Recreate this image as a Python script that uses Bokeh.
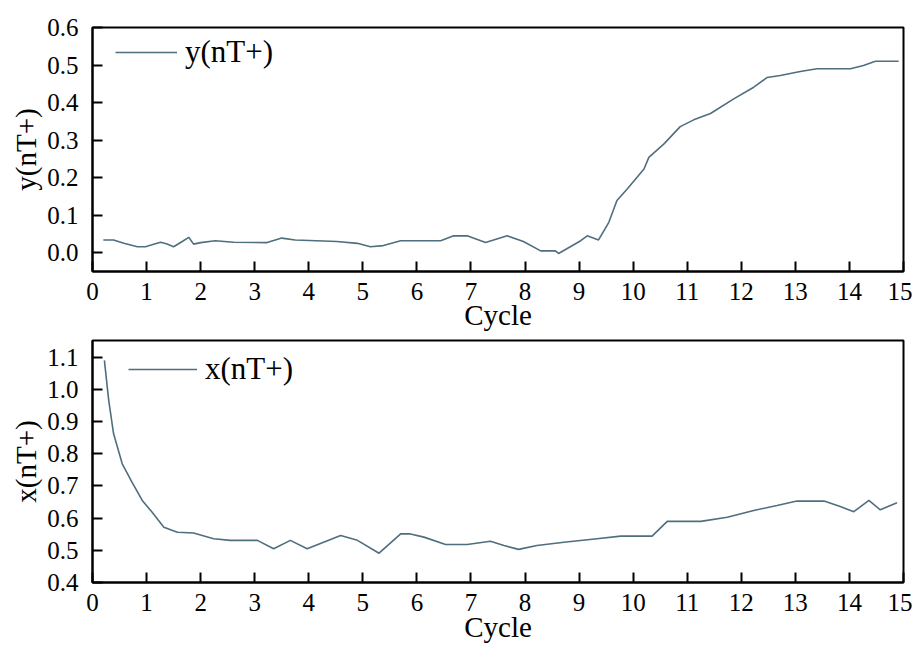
from bokeh.plotting import figure
from bokeh.layouts import column
from bokeh.models import FixedTicker, PrintfTickFormatter, Legend, LegendItem, Range1d
from bokeh.embed import file_html
from bokeh.resources import INLINE

# ---------------- data ----------------
x_ticks = list(range(0, 16))
top_y_ticks = [0.0, 0.1, 0.2, 0.3, 0.4, 0.5, 0.6]
bottom_y_ticks = [0.4, 0.5, 0.6, 0.7, 0.8, 0.9, 1.0, 1.1]

cycle_top = [0.2, 0.39, 0.58, 0.83, 0.98, 1.1, 1.26, 1.38, 1.5, 1.66, 1.78, 1.87,
             2.0, 2.27, 2.61, 3.23, 3.5, 3.75, 4.52, 4.9, 5.14, 5.38, 5.70, 6.44,
             6.68, 6.93, 7.27, 7.67, 7.97, 8.29, 8.56, 8.62, 9.03, 9.15, 9.36, 9.55,
             9.70, 9.89, 10.2, 10.29, 10.57, 10.87, 11.12, 11.43, 11.86, 12.23, 12.48,
             12.72, 13.09, 13.4, 14.02, 14.26, 14.48, 14.91]
y_nT = [0.034, 0.034, 0.025, 0.016, 0.016, 0.021, 0.028, 0.023, 0.016, 0.030, 0.041,
        0.023, 0.027, 0.032, 0.028, 0.027, 0.039, 0.034, 0.030, 0.025, 0.016, 0.019,
        0.032, 0.032, 0.045, 0.045, 0.027, 0.045, 0.030, 0.005, 0.005, -0.002, 0.032,
        0.045, 0.034, 0.081, 0.139, 0.170, 0.223, 0.254, 0.290, 0.336, 0.354, 0.371,
        0.410, 0.441, 0.467, 0.472, 0.483, 0.490, 0.490, 0.499, 0.510, 0.510]

cycle_bottom = [0.22, 0.30, 0.39, 0.55, 0.73, 0.92, 1.1, 1.32, 1.57, 1.87, 2.24, 2.55,
                3.05, 3.35, 3.66, 3.97, 4.59, 4.9, 5.3, 5.7, 5.88, 6.13, 6.53, 6.93,
                7.36, 7.61, 7.88, 8.22, 8.72, 9.33, 9.77, 10.35, 10.63, 11.25, 11.74,
                12.23, 12.66, 13.03, 13.53, 13.83, 14.08, 14.36, 14.57, 14.88]
x_nT = [1.09, 0.966, 0.862, 0.769, 0.712, 0.655, 0.619, 0.572, 0.556, 0.554, 0.536,
        0.531, 0.531, 0.505, 0.531, 0.505, 0.546, 0.531, 0.491, 0.551, 0.551, 0.541,
        0.518, 0.518, 0.528, 0.515, 0.503, 0.515, 0.525, 0.536, 0.544, 0.544, 0.590,
        0.590, 0.603, 0.624, 0.639, 0.653, 0.653, 0.636, 0.620, 0.655, 0.626, 0.648]

# ---------------- style ----------------
FONT = "Liberation Serif"
LINE_COLOR = "#4f6e7e"


def make_fig(h, top_b, bot_b, yr, yticks, ylabel, tick_sd, lab_sd):
    p = figure(width=912, height=h, output_backend="svg", toolbar_location=None,
               x_range=Range1d(0, 15), y_range=Range1d(*yr),
               min_border_left=92, min_border_right=9,
               min_border_top=top_b, min_border_bottom=bot_b)
    p.grid.visible = False
    p.outline_line_color = "black"
    p.outline_line_width = 2
    p.background_fill_color = "white"
    p.border_fill_color = "white"
    for ax in (p.xaxis[0], p.yaxis[0]):
        ax.axis_line_color = "black"
        ax.axis_line_width = 2
        ax.major_tick_in = 10
        ax.major_tick_out = 0
        ax.major_tick_line_width = 2
        ax.major_tick_line_color = "black"
        ax.minor_tick_line_color = None
        ax.major_label_text_font = FONT
        ax.major_label_text_font_size = "25px"
        ax.major_label_text_color = "black"
        ax.axis_label_text_font = FONT
        ax.axis_label_text_font_size = "29px"
        ax.axis_label_text_font_style = "normal"
        ax.axis_label_text_color = "black"
    p.xaxis.ticker = FixedTicker(ticks=x_ticks)
    p.xaxis.axis_label = "Cycle"
    p.xaxis.major_label_standoff = tick_sd
    p.xaxis.axis_label_standoff = lab_sd
    p.yaxis.ticker = FixedTicker(ticks=yticks)
    p.yaxis.formatter = PrintfTickFormatter(format="%.1f")
    p.yaxis.axis_label = ylabel
    p.yaxis.major_label_standoff = 14
    p.yaxis.axis_label_standoff = 2
    return p


p1 = make_fig(338, 27, 67, (-0.05, 0.6), top_y_ticks, "y(nT+)", 11, -4)
r1 = p1.line(cycle_top, y_nT, line_color=LINE_COLOR, line_width=1.6)

p2 = make_fig(310, 2, 66, (0.4, 1.152), bottom_y_ticks, "x(nT+)", 11, -3)
r2 = p2.line(cycle_bottom, x_nT, line_color=LINE_COLOR, line_width=1.6)


def add_legend(p, r, label, loc, glyph_w):
    lg = Legend(items=[LegendItem(label=label, renderers=[r])], location=loc,
                border_line_color=None, background_fill_alpha=0,
                padding=0, margin=0, spacing=0,
                glyph_width=glyph_w, glyph_height=34, label_height=34,
                label_standoff=8,
                label_text_font=FONT, label_text_font_size="31px",
                label_text_color="black")
    p.add_layout(lg, "center")


add_legend(p1, r1, "y(nT+)", (23, 201), 62)
add_legend(p2, r2, "x(nT+)", (36, 195), 69)

layout = column(p1, p2)
open("out.html", "w").write(file_html(layout, INLINE))
